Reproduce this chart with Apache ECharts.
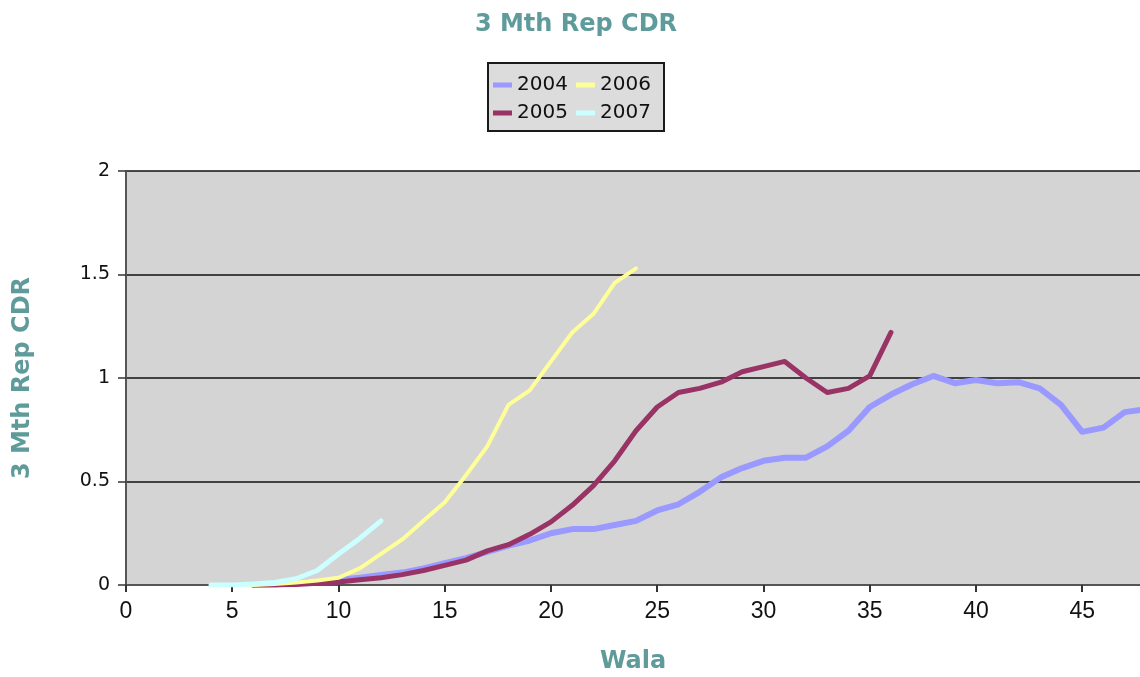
<!DOCTYPE html>
<html>
<head>
<meta charset="utf-8">
<title>3 Mth Rep CDR</title>
<script src="https://cdn.jsdelivr.net/npm/echarts@6/dist/echarts.min.js"></script>
<style>
  html, body { margin: 0; padding: 0; background: #ffffff; }
  #chart { width: 1140px; height: 677px; }
</style>
</head>
<body>
<div id="chart"></div>
<script>
// Vintage years and the wala (loan age, months) at which each curve starts
const vintages = ['2004', '2005', '2006', '2007'];
const startWala = [6, 6, 5, 4];

// 3-month repeat CDR by wala, one value per month from the start wala
const cdr2004 = [0, 0.003, 0.008, 0.015, 0.025, 0.035, 0.048, 0.06, 0.08, 0.105,
  0.13, 0.16, 0.19, 0.215, 0.25, 0.27, 0.27, 0.29, 0.31, 0.36,
  0.39, 0.45, 0.52, 0.565, 0.60, 0.615, 0.615, 0.67, 0.745, 0.86,
  0.92, 0.97, 1.01, 0.975, 0.99, 0.975, 0.98, 0.95, 0.87, 0.74,
  0.76, 0.835, 0.85];
const cdr2005 = [0, 0, 0.003, 0.008, 0.015, 0.025, 0.035, 0.05, 0.07, 0.095,
  0.12, 0.165, 0.195, 0.245, 0.305, 0.385, 0.48, 0.60, 0.745, 0.86,
  0.93, 0.95, 0.98, 1.03, 1.055, 1.08, 1.00, 0.93, 0.95, 1.01, 1.22];
const cdr2006 = [0, 0, 0.005, 0.012, 0.022, 0.035, 0.08, 0.15, 0.22, 0.31,
  0.40, 0.53, 0.67, 0.87, 0.94, 1.08, 1.22, 1.31, 1.46, 1.53];
const cdr2007 = [0, 0, 0.005, 0.012, 0.03, 0.07, 0.15, 0.225, 0.31];

// Axis scales
const xMin = 0, xMax = 47.72, xStep = 5;
const yMin = 0, yMax = 2, yStep = 0.5;

const seriesValues = [cdr2004, cdr2005, cdr2006, cdr2007];
const seriesColors = ['#9999ff', '#993366', '#ffff99', '#ccffff'];
const seriesWidths = [6, 5, 4, 5];

const teal = '#5f9b9b';

const chart = echarts.init(document.getElementById('chart'), null, { renderer: 'canvas' });

const series = vintages.map((name, k) => ({
  name: name,
  type: 'line',
  data: seriesValues[k].map((v, i) => [startWala[k] + i, v]),
  showSymbol: false,
  symbol: 'none',
  smooth: false,
  clip: true,
  lineStyle: { color: seriesColors[k], width: seriesWidths[k], cap: 'round', join: 'round' },
  itemStyle: { color: seriesColors[k] },
  z: 3 + k
}));

const legendText = { fontFamily: 'DejaVu Sans', fontSize: 20, color: '#111', lineHeight: 18 };

chart.setOption({
  animation: false,
  backgroundColor: '#ffffff',
  title: {
    text: '3 Mth Rep CDR',
    left: 576,
    top: 13,
    textAlign: 'center',
    padding: 0,
    textStyle: { fontFamily: 'DejaVu Sans', fontWeight: 'bold', fontSize: 24, color: teal }
  },
  graphic: [{
    type: 'rect',
    left: 487,
    top: 62,
    shape: { width: 176, height: 68 },
    style: { fill: '#dcdcdc', stroke: '#1a1a1a', lineWidth: 2 },
    z: 0
  }],
  legend: [
    {
      data: [vintages[0], vintages[1]],
      orient: 'vertical',
      left: 493, top: 75, padding: 0,
      itemGap: 8, itemWidth: 19, itemHeight: 5,
      icon: 'rect',
      textStyle: legendText,
      selectedMode: false,
      z: 10
    },
    {
      data: [vintages[2], vintages[3]],
      orient: 'vertical',
      left: 576, top: 75, padding: 0,
      itemGap: 8, itemWidth: 19, itemHeight: 5,
      icon: 'rect',
      textStyle: legendText,
      selectedMode: false,
      z: 10
    }
  ],
  grid: {
    left: 126, right: 0, top: 171, bottom: 92,
    outerBoundsMode: 'none',
    containLabel: false,
    show: true,
    backgroundColor: '#d4d4d4',
    borderWidth: 0
  },
  xAxis: {
    type: 'value',
    min: xMin, max: xMax, interval: xStep,
    name: 'Wala',
    nameLocation: 'middle',
    nameGap: 65,
    nameTextStyle: { fontFamily: 'DejaVu Sans', fontWeight: 'bold', fontSize: 24, color: teal },
    axisLine: { show: true, lineStyle: { color: '#555', width: 2 } },
    axisTick: { show: true, length: 7, lineStyle: { color: '#333', width: 2 } },
    axisLabel: {
      showMaxLabel: false,
      margin: 15,
      fontFamily: 'Liberation Sans', fontSize: 23, color: '#111'
    },
    splitLine: { show: false }
  },
  yAxis: {
    type: 'value',
    min: yMin, max: yMax, interval: yStep,
    name: '3 Mth Rep CDR',
    nameLocation: 'middle',
    nameRotate: 90,
    nameGap: 91,
    nameTextStyle: { fontFamily: 'DejaVu Sans', fontWeight: 'bold', fontSize: 24, color: teal },
    axisLine: { show: true, lineStyle: { color: '#555', width: 2 } },
    axisTick: { show: true, length: 8, lineStyle: { color: '#333', width: 1.5 } },
    axisLabel: {
      margin: 16,
      fontFamily: 'DejaVu Sans', fontSize: 19, color: '#111'
    },
    splitLine: { show: true, lineStyle: { color: '#111', width: 1.5 } }
  },
  series: series
});
</script>
</body>
</html>
